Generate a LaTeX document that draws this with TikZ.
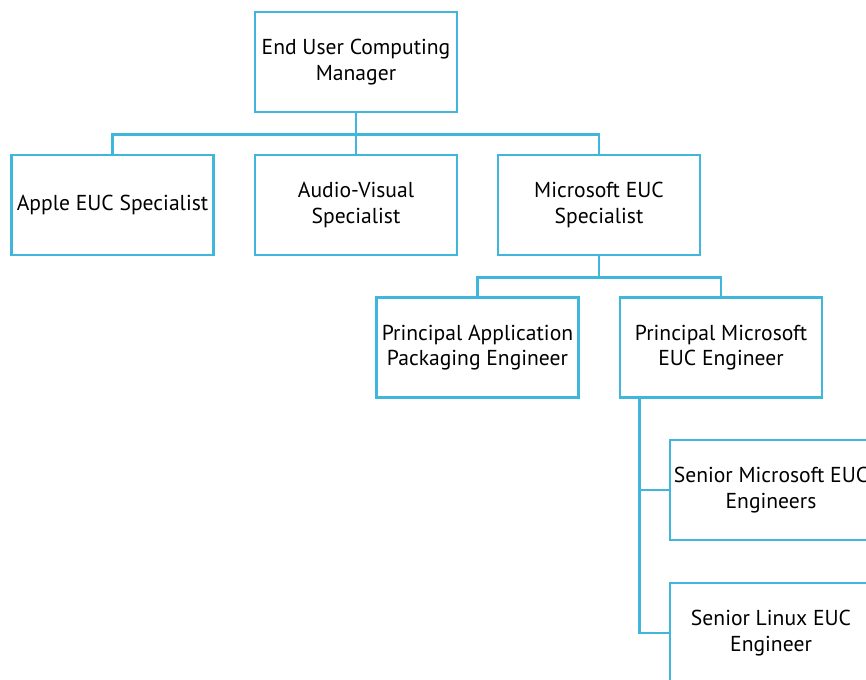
\documentclass[tikz,border=0pt]{standalone}
\usepackage{fontspec}
\setmainfont{PT Sans}
\usetikzlibrary{positioning}
\definecolor{eucblue}{RGB}{64,182,220}
\tikzset{
  role/.style={draw=eucblue, line width=2pt, fill=white, minimum width=151.5pt,
    minimum height=75pt, align=center, font=\fontsize{16.2}{19}\selectfont, inner sep=1pt},
  link/.style={draw=eucblue, line width=2pt}
}
\begin{document}
\begin{tikzpicture}[x=0.75pt,y=-0.75pt]
\useasboundingbox (0,0) rectangle (866,680);

% Manager
\node[role] (mgr) at (356,62) {End User Computing\\Manager};

% Specialists
\node[role] (apple) at (112.5,205) {Apple EUC Specialist};
\node[role] (av) at (356,205) {Audio-Visual\\Specialist};
\node[role] (mseuc) at (599,205) {Microsoft EUC\\Specialist};

% Principal engineers
\node[role] (pape) at (477.5,347.5) {Principal Application\\Packaging Engineer};
\node[role] (pmse) at (721,347.5) {Principal Microsoft\\EUC Engineer};

% Senior engineers
\node[role] (smse) at (771,490) {Senior Microsoft EUC\\Engineers};
\node[role] (slin) at (771,633) {Senior Linux EUC\\Engineer};

% Connectors
\draw[link] (mgr.south) -- ++(0,21) -| (apple.north);
\draw[link] (mgr.south) -- ++(0,21) -| (mseuc.north);
\draw[link] (mgr.south) -- (av.north);
\draw[link] (mseuc.south) -- ++(0,21) -| (pape.north);
\draw[link] (mseuc.south) -- ++(0,21) -| (pmse.north);
\draw[link] ([xshift=21*0.75pt]pmse.south west) |- (smse.west);
\draw[link] ([xshift=21*0.75pt]pmse.south west) |- (slin.west);
\end{tikzpicture}
\end{document}
